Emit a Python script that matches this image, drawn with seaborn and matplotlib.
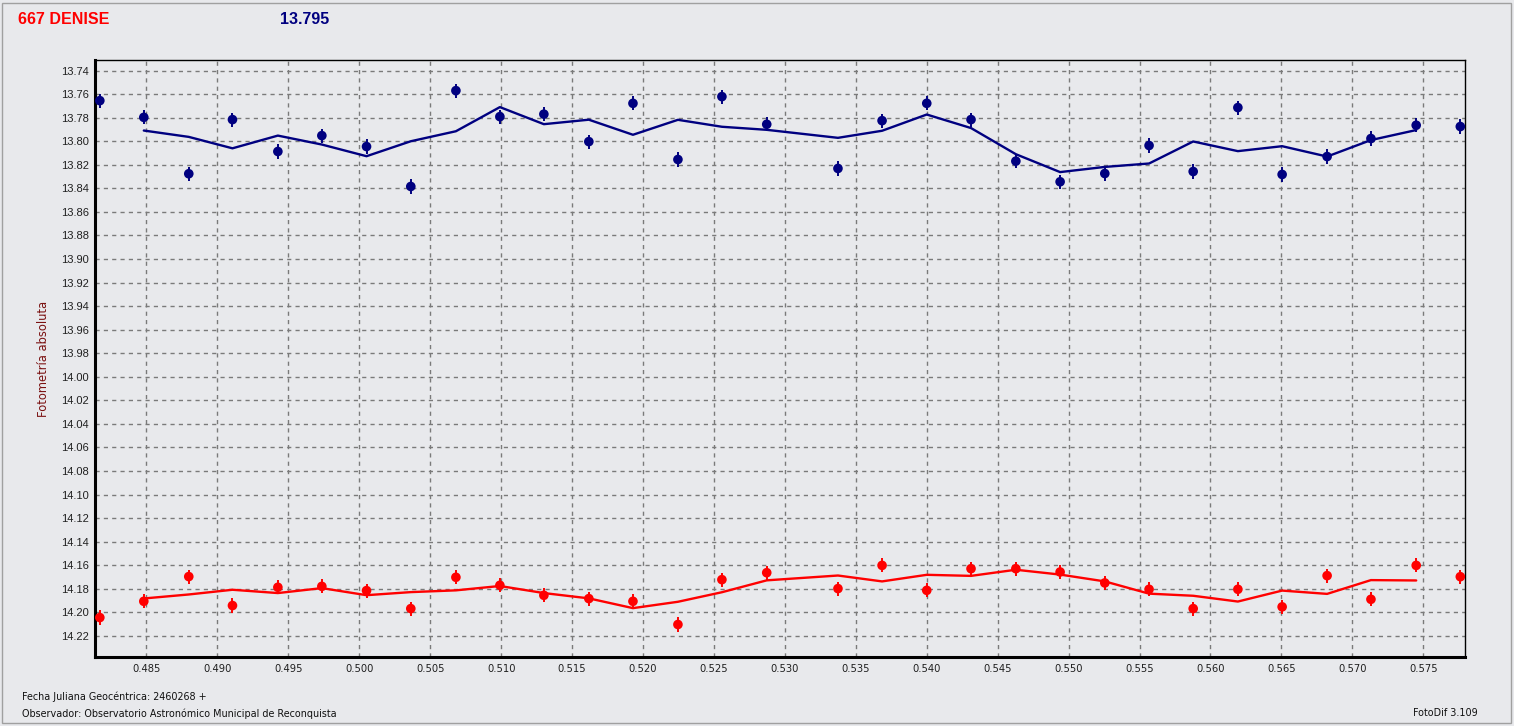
import matplotlib
matplotlib.use("Agg")
import matplotlib.pyplot as plt
import seaborn as sns
import pandas as pd
from matplotlib.ticker import MultipleLocator, FormatStrFormatter
from matplotlib.patches import Rectangle

# ---- data ----
jd = [0.48171, 0.48481, 0.48798, 0.49106, 0.49426, 0.49736, 0.50051, 0.50363,
      0.50681, 0.50991, 0.51301, 0.51618, 0.51929, 0.52246, 0.52556, 0.52872,
      0.53374, 0.53685, 0.54000, 0.54312, 0.54628, 0.54940, 0.55255, 0.55567,
      0.55878, 0.56193, 0.56505, 0.56822, 0.57131, 0.57450, 0.57761]

target_mag = [13.7655, 13.7797, 13.8276, 13.7816, 13.8087, 13.7952, 13.8045, 13.8384,
              13.7570, 13.7791, 13.7770, 13.8003, 13.7678, 13.8155, 13.7621, 13.7856,
              13.8231, 13.7825, 13.7678, 13.7816, 13.8169, 13.8344, 13.8274, 13.8036,
              13.8257, 13.7714, 13.8282, 13.8130, 13.7977, 13.7864, 13.7875]

comp_mag = [14.2045, 14.1907, 14.1697, 14.1943, 14.1788, 14.1780, 14.1816, 14.1969,
            14.1703, 14.1771, 14.1856, 14.1884, 14.1907, 14.2104, 14.1723, 14.1664,
            14.1799, 14.1602, 14.1814, 14.1630, 14.1630, 14.1658, 14.1751, 14.1805,
            14.1969, 14.1805, 14.1954, 14.1689, 14.1890, 14.1602, 14.1698]

# smoothed curves (vertices read at the 2nd .. 30th observation)
target_curve = [13.7909, 13.7963, 13.8060, 13.7952, 13.8028, 13.8127, 13.8000, 13.7915,
                13.7710, 13.7855, 13.7817, 13.7945, 13.7818, 13.7877, 13.7903, 13.7971,
                13.7911, 13.7773, 13.7888, 13.8110, 13.8262, 13.8218, 13.8189, 13.8002,
                13.8084, 13.8042, 13.8130, 13.7990, 13.7905]

comp_curve = [14.1883, 14.1849, 14.1809, 14.1837, 14.1795, 14.1855, 14.1829, 14.1814,
              14.1777, 14.1837, 14.1882, 14.1965, 14.1911, 14.1830, 14.1729, 14.1688,
              14.1738, 14.1682, 14.1691, 14.1639, 14.1680, 14.1738, 14.1842, 14.1860,
              14.1909, 14.1816, 14.1844, 14.1727, 14.1730]

title_text = "667 DENISE"
mean_text = "13.795"
ylabel_text = "Fotometría absoluta"
footer1 = "Fecha Juliana Geocéntrica: 2460268 +"
footer2 = "Observador: Observatorio Astronómico Municipal de Reconquista"
footer3 = "FotoDif 3.109"

BLUE = "#000080"
RED = "#ff0000"
BG = "#e8e9ec"

pts = pd.DataFrame({"jd": jd + jd,
                    "mag": target_mag + comp_mag,
                    "serie": ["target"] * len(jd) + ["comp"] * len(jd)})
curves = pd.DataFrame({"jd": jd[1:30] + jd[1:30],
                       "mag": target_curve + comp_curve,
                       "serie": ["target"] * 29 + ["comp"] * 29})
palette = {"target": BLUE, "comp": RED}

sns.set_theme(style="white")
plt.rcParams["font.family"] = ["Liberation Sans", "DejaVu Sans"]

fig = plt.figure(figsize=(15.14, 7.26), dpi=100, facecolor=BG)
ax = fig.add_axes([95 / 1514, 1 - 657 / 726, (1465 - 95) / 1514, (657 - 60) / 726])
ax.set_facecolor(BG)

# error bars
for s in ["target", "comp"]:
    sub = pts[pts.serie == s]
    ax.errorbar(sub.jd, sub.mag, yerr=0.006, fmt="none", ecolor=palette[s],
                elinewidth=1.4, capsize=0, zorder=3)

sns.lineplot(data=curves, x="jd", y="mag", hue="serie", palette=palette,
             sort=False, estimator=None, linewidth=1.7, legend=False, ax=ax, zorder=4)
sns.scatterplot(data=pts, x="jd", y="mag", hue="serie", palette=palette,
                marker="o", s=48, edgecolor="none", legend=False, ax=ax, zorder=5)

ax.set_xlim(0.48137, 0.57794)
ax.set_ylim(14.238, 13.731)
ax.xaxis.set_major_locator(MultipleLocator(0.005))
ax.xaxis.set_minor_locator(MultipleLocator(0.00125))
ax.xaxis.set_major_formatter(FormatStrFormatter("%.3f"))
ax.yaxis.set_major_locator(MultipleLocator(0.02))
ax.yaxis.set_minor_locator(MultipleLocator(0.005))
ax.yaxis.set_major_formatter(FormatStrFormatter("%.2f"))

ax.grid(True, which="major", color="#7a7a7a", linestyle=(0, (3, 3)), linewidth=1.0)
ax.set_axisbelow(True)

for side in ["left", "bottom"]:
    ax.spines[side].set_linewidth(2.2)
    ax.spines[side].set_color("black")
for side in ["top", "right"]:
    ax.spines[side].set_linewidth(1.0)
    ax.spines[side].set_color("black")

ax.tick_params(axis="y", which="major", direction="out", length=3.5, width=1,
               color="#333333", labelsize=8, pad=1, labelcolor="#202020")
ax.tick_params(axis="y", which="minor", direction="in", length=3, width=1, color="#333333")
ax.tick_params(axis="x", which="major", direction="out", length=0, labelsize=7.2,
               pad=5, labelcolor="#202020")
ax.tick_params(axis="x", which="minor", direction="out", length=4, width=1, color="#555555")
for lab in ax.get_xticklabels():
    lab.set_family(["DejaVu Sans"])
    lab.set_fontsize(7.2)

ax.set_xlabel("")
ax.set_ylabel(ylabel_text, color="#7a1010", fontsize=8.3, labelpad=8,
              family=["DejaVu Sans"])

fig.text(18 / 1514, 1 - 19 / 726, title_text, color=RED, fontsize=11.5,
         fontweight="bold", va="center", ha="left")
fig.text(280 / 1514, 1 - 19 / 726, mean_text, color=BLUE, fontsize=11.5,
         fontweight="bold", va="center", ha="left")
fig.text(22 / 1514, 1 - 697 / 726, footer1, fontsize=6.9, va="center", ha="left",
         family=["DejaVu Sans"], color="#101010")
fig.text(22 / 1514, 1 - 714 / 726, footer2, fontsize=6.9, va="center", ha="left",
         family=["DejaVu Sans"], color="#101010")
fig.text(1478 / 1514, 1 - 713 / 726, footer3, fontsize=6.9, va="center", ha="right",
         family=["DejaVu Sans"], color="#101010")

fig.patches.append(Rectangle((2 / 1514, 3 / 726), 1509 / 1514, 720 / 726,
                             transform=fig.transFigure, fill=False,
                             edgecolor="#a0a0a0", linewidth=1.0))

fig.savefig("out.png", dpi=100, facecolor=BG)
